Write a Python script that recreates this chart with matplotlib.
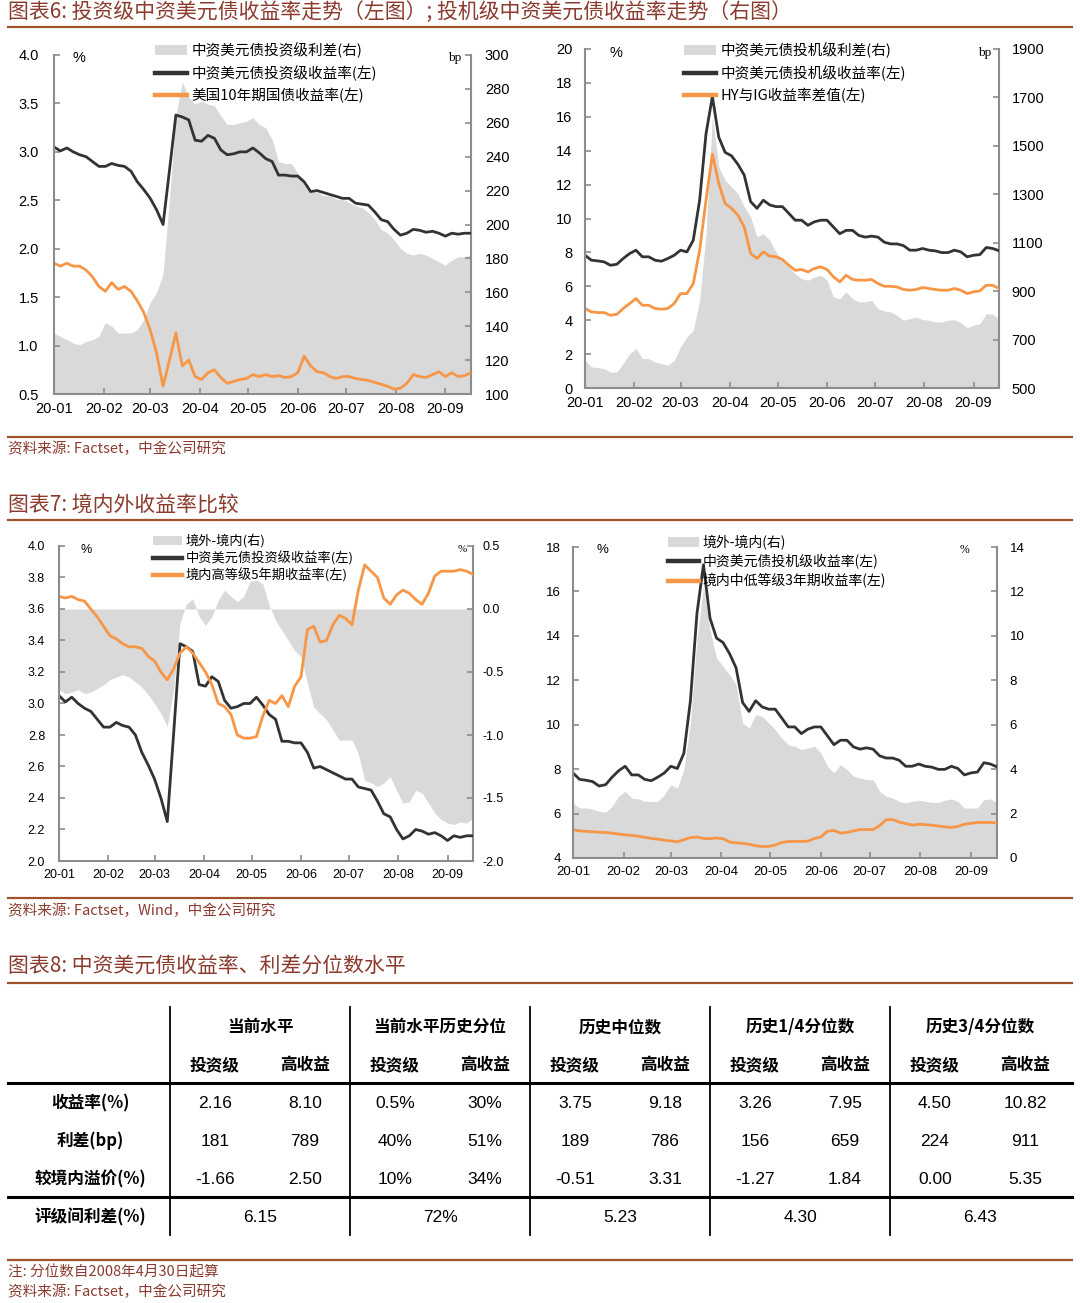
import pandas as pd
import matplotlib
matplotlib.use('Agg')
import matplotlib.pyplot as plt
from matplotlib.patches import Patch
from matplotlib.lines import Line2D

plt.rcParams['font.family'] = ['Liberation Sans', 'Noto Sans CJK SC']

# 4-day grid, 2020-01-01 .. 2020-09-17
dates = pd.date_range('2020-01-01', periods=66, freq='4D')

ig_spread = [136, 134, 132, 130, 129, 131, 132, 134, 142, 140,
             136, 136, 136, 138, 144, 154, 160, 171, 215, 264,
             284, 275, 271, 273, 271, 270, 264, 259, 259, 260,
             261, 263, 259, 257, 250, 237, 236, 236, 230, 223,
             219, 219, 217, 217, 215, 215, 213, 211, 210, 207,
             203, 197, 195, 191, 186, 183, 182, 183, 182, 180,
             178, 176, 179, 181, 181, 182]
ig_yield = [3.05, 3.01, 3.04, 3.00, 2.97, 2.95, 2.90, 2.85, 2.85, 2.88,
            2.86, 2.85, 2.80, 2.69, 2.61, 2.52, 2.40, 2.25, 2.81, 3.38,
            3.36, 3.33, 3.12, 3.11, 3.17, 3.14, 3.02, 2.97, 2.98, 3.00,
            3.00, 3.04, 2.99, 2.93, 2.90, 2.76, 2.76, 2.75, 2.75, 2.69,
            2.59, 2.60, 2.58, 2.56, 2.54, 2.52, 2.52, 2.47, 2.46, 2.45,
            2.38, 2.30, 2.28, 2.20, 2.14, 2.16, 2.20, 2.19, 2.17, 2.18,
            2.16, 2.13, 2.16, 2.15, 2.16, 2.16]
ust10 = [1.85, 1.82, 1.85, 1.82, 1.82, 1.78, 1.71, 1.61, 1.56, 1.65,
         1.58, 1.61, 1.56, 1.46, 1.34, 1.16, 0.92, 0.58, 0.85, 1.13,
         0.79, 0.85, 0.68, 0.65, 0.72, 0.75, 0.67, 0.61, 0.63, 0.65,
         0.66, 0.70, 0.68, 0.70, 0.68, 0.69, 0.67, 0.68, 0.72, 0.89,
         0.79, 0.73, 0.72, 0.68, 0.66, 0.68, 0.68, 0.66, 0.65, 0.64,
         0.62, 0.60, 0.58, 0.55, 0.56, 0.61, 0.70, 0.68, 0.67, 0.70,
         0.73, 0.68, 0.72, 0.68, 0.69, 0.72]

hy_spread = [614, 587, 584, 580, 566, 566, 601, 642, 663, 621,
             621, 607, 601, 594, 614, 669, 711, 738, 862, 1138,
             1620, 1414, 1358, 1331, 1303, 1248, 1207, 1124, 1138, 1110,
             1062, 1028, 1000, 972, 952, 945, 959, 966, 945, 876,
             869, 897, 869, 856, 856, 862, 828, 818, 814, 800,
             780, 786, 793, 782, 780, 773, 773, 780, 782, 769,
             749, 759, 766, 807, 805, 786]
hy_yield = [7.83, 7.54, 7.50, 7.44, 7.24, 7.30, 7.64, 7.93, 8.13, 7.74,
            7.74, 7.54, 7.48, 7.64, 7.83, 8.13, 8.03, 8.72, 11.08, 15.0,
            17.2, 14.8, 13.9, 13.7, 13.2, 12.56, 11.0, 10.6, 11.08, 10.8,
            10.7, 10.7, 10.3, 9.9, 9.9, 9.6, 9.8, 9.9, 9.9, 9.5,
            9.1, 9.3, 9.3, 9.0, 8.9, 8.96, 8.9, 8.6, 8.5, 8.5,
            8.4, 8.13, 8.13, 8.23, 8.13, 8.09, 7.99, 7.99, 8.13, 8.03,
            7.74, 7.83, 7.87, 8.29, 8.23, 8.10]
hy_ig_diff = [4.69, 4.49, 4.45, 4.45, 4.29, 4.35, 4.69, 4.98, 5.28, 4.88,
              4.88, 4.69, 4.65, 4.69, 4.98, 5.57, 5.57, 6.16, 8.13, 11.08,
              13.8, 12.07, 10.89, 10.6, 10.2, 9.5, 7.93, 7.64, 8.03, 7.78,
              7.74, 7.58, 7.24, 6.95, 6.99, 6.85, 7.05, 7.15, 6.99, 6.56,
              6.26, 6.65, 6.40, 6.36, 6.36, 6.40, 6.16, 6.00, 6.00, 5.96,
              5.81, 5.77, 5.81, 5.93, 5.87, 5.81, 5.77, 5.77, 5.87, 5.77,
              5.57, 5.67, 5.73, 6.06, 6.06, 5.87]

ig_premium = [-0.64, -0.67, -0.66, -0.64, -0.67, -0.66, -0.63, -0.60, -0.56, -0.54,
              -0.52, -0.54, -0.58, -0.62, -0.68, -0.75, -0.83, -0.93, -0.64, -0.11,
              0.04, 0.08, -0.06, -0.13, -0.06, 0.07, 0.15, 0.10, 0.06, 0.10,
              0.22, 0.23, 0.20, 0.03, -0.09, -0.17, -0.25, -0.33, -0.38, -0.59,
              -0.78, -0.83, -0.88, -0.96, -1.04, -1.04, -1.04, -1.15, -1.36, -1.38,
              -1.41, -1.38, -1.33, -1.44, -1.54, -1.53, -1.44, -1.46, -1.54, -1.62,
              -1.67, -1.70, -1.71, -1.69, -1.70, -1.66]
cn_hg5y = [3.68, 3.67, 3.68, 3.66, 3.65, 3.60, 3.55, 3.49, 3.43, 3.41,
           3.38, 3.36, 3.36, 3.35, 3.30, 3.27, 3.20, 3.15, 3.22, 3.32,
           3.36, 3.32, 3.26, 3.20, 3.12, 3.00, 2.98, 2.93, 2.80, 2.78,
           2.78, 2.79, 2.92, 3.02, 3.00, 3.05, 2.98, 3.11, 3.17, 3.47,
           3.49, 3.39, 3.40, 3.50, 3.56, 3.54, 3.50, 3.72, 3.88, 3.84,
           3.80, 3.67, 3.63, 3.69, 3.72, 3.70, 3.66, 3.63, 3.70, 3.81,
           3.84, 3.84, 3.84, 3.85, 3.84, 3.82]

hy_premium = [2.48, 2.25, 2.25, 2.2, 2.1, 2.06, 2.33, 2.78, 3.0, 2.7,
              2.66, 2.55, 2.55, 2.55, 2.85, 3.3, 3.15, 3.98, 6.08, 9.83,
              12.23, 10.28, 9.0, 8.63, 8.25, 7.8, 6.08, 5.85, 6.45, 6.38,
              6.08, 5.78, 5.4, 5.1, 5.03, 4.88, 4.95, 5.03, 4.73, 4.13,
              3.83, 4.2, 3.98, 3.68, 3.6, 3.53, 3.53, 3.0, 2.78, 2.7,
              2.55, 2.48, 2.55, 2.6, 2.55, 2.5, 2.5, 2.6, 2.66, 2.55,
              2.25, 2.25, 2.25, 2.63, 2.66, 2.48]
cn_ml3y = [5.27, 5.22, 5.20, 5.18, 5.16, 5.15, 5.12, 5.08, 5.04, 5.02,
           4.98, 4.93, 4.88, 4.85, 4.80, 4.77, 4.73, 4.82, 4.92, 4.94,
           4.88, 4.87, 4.90, 4.87, 4.72, 4.68, 4.66, 4.62, 4.55, 4.52,
           4.52, 4.58, 4.70, 4.74, 4.75, 4.74, 4.76, 4.88, 4.95, 5.20,
           5.24, 5.12, 5.15, 5.22, 5.28, 5.28, 5.28, 5.45, 5.72, 5.73,
           5.62, 5.55, 5.48, 5.52, 5.50, 5.48, 5.44, 5.40, 5.38, 5.42,
           5.52, 5.56, 5.60, 5.60, 5.60, 5.58]

month_ticks = pd.date_range('2020-01-01', '2020-09-01', freq='MS')
month_labels = [d.strftime('%y-%m') for d in month_ticks]

# table
groups = ['当前水平', '当前水平历史分位', '历史中位数', '历史1/4分位数', '历史3/4分位数']
subcols = ['投资级', '高收益']
row_labels = ['收益率(%)', '利差(bp)', '较境内溢价(%)']
row_values = [['2.16', '8.10', '0.5%', '30%', '3.75', '9.18', '3.26', '7.95', '4.50', '10.82'],
              ['181', '789', '40%', '51%', '189', '786', '156', '659', '224', '911'],
              ['-1.66', '2.50', '10%', '34%', '-0.51', '3.31', '-1.27', '1.84', '0.00', '5.35']]
last_label = '评级间利差(%)'
last_values = ['6.15', '72%', '5.23', '4.30', '6.43']

W, H = 1080, 1303
fig = plt.figure(figsize=(W / 100, H / 100), dpi=100)

GREY = '#D9D9D9'
BLACK = '#333333'
ORANGE = '#F79646'
AXC = '#8C8C8C'
TITLEC = '#8B3A2E'
RULEC = '#A0522D'
CJK = ['Noto Sans CJK SC', 'DejaVu Sans']


def px_rect(x0, y0, x1, y1):
    return [x0 / W, 1 - y1 / H, (x1 - x0) / W, (y1 - y0) / H]


def hline(y, x0=8, x1=1072, color=RULEC, lw=1.6):
    fig.add_artist(Line2D([x0 / W, x1 / W], [1 - y / H, 1 - y / H],
                          transform=fig.transFigure, color=color, lw=lw))


def vline(x, y0, y1, color='black', lw=1.3):
    fig.add_artist(Line2D([x / W, x / W], [1 - y0 / H, 1 - y1 / H],
                          transform=fig.transFigure, color=color, lw=lw))


def ftext(x, y, s, **kw):
    fig.text(x / W, 1 - y / H, s, **kw)


def chart(rect, fill, base, black, orange, llim, lticks, lfmt, rlim, rticks, rfmt,
          labels, lunit, runit, fs, pads, leg_xy, leg_fs, leg_sp, unit_pos):
    ax = fig.add_axes(px_rect(*rect))
    ax2 = ax.twinx()
    ax2.fill_between(dates, base, fill, color=GREY, lw=0)
    ax.plot(dates, black, color=BLACK, lw=2.0)
    ax.plot(dates, orange, color=ORANGE, lw=2.0)
    ax.set_zorder(ax2.get_zorder() + 1)
    ax.patch.set_visible(False)
    ax.set_xlim(pd.Timestamp('2020-01-01'), dates[-1])
    ax.set_ylim(*llim)
    ax2.set_ylim(*rlim)
    ax.set_yticks(lticks)
    ax.set_yticklabels([lfmt.format(v) for v in lticks])
    ax2.set_yticks(rticks)
    ax2.set_yticklabels([rfmt.format(v) for v in rticks])
    ax.set_xticks(month_ticks)
    ax.set_xticklabels(month_labels)
    for a in (ax, ax2):
        for s in a.spines.values():
            s.set_color(AXC)
            s.set_linewidth(1.5)
        a.spines['top'].set_visible(False)
    ax.spines['right'].set_visible(False)
    ax2.spines['left'].set_visible(False)
    ax2.spines['bottom'].set_visible(False)
    ax.tick_params(axis='y', direction='in', length=4, color=AXC, width=1.2,
                   labelsize=fs, pad=pads[0])
    ax2.tick_params(axis='y', direction='in', length=4, color=AXC, width=1.2,
                    labelsize=fs, pad=pads[1])
    ax.tick_params(axis='x', direction='in', length=4, color=AXC, width=1.2,
                   labelsize=fs, pad=pads[2])
    handles = [Patch(facecolor=GREY, edgecolor='none'),
               Line2D([], [], color=BLACK, lw=3.2),
               Line2D([], [], color=ORANGE, lw=3.2)]
    ax.legend(handles, labels, loc='upper left',
              bbox_to_anchor=(leg_xy[0] / W, 1 - leg_xy[1] / H),
              bbox_transform=fig.transFigure, frameon=False,
              prop={'family': CJK, 'size': leg_fs}, handlelength=2.2,
              handletextpad=0.3, labelspacing=leg_sp, borderpad=0,
              borderaxespad=0)
    ftext(unit_pos[0], unit_pos[1], lunit, fontsize=fs, va='center', ha='center')
    ftext(unit_pos[2], unit_pos[1], runit, fontsize=fs - 1, va='center',
          ha='center', family=['Liberation Serif'])
    return ax


# ---- titles / rules
title_kw = dict(fontsize=15, color=TITLEC, va='center', ha='left', family=CJK)
src_kw = dict(fontsize=10.5, color=TITLEC, va='center', ha='left', family=CJK)

ftext(8, 12, '图表6: 投资级中资美元债收益率走势（左图）; 投机级中资美元债收益率走势（右图）', **title_kw)
hline(27)
ftext(8, 449, '资料来源: Factset，中金公司研究', **src_kw)
hline(437)

ftext(8, 506, '图表7: 境内外收益率比较', **title_kw)
hline(520)
hline(898)
ftext(8, 911, '资料来源: Factset，Wind，中金公司研究', **src_kw)

ftext(8, 967, '图表8: 中资美元债收益率、利差分位数水平', **title_kw)
hline(983)
hline(1260)
ftext(8, 1272, '注: 分位数自2008年4月30日起算', **src_kw)
ftext(8, 1292, '资料来源: Factset，中金公司研究', **src_kw)

# ---- charts
chart((54, 55, 471, 394), ig_spread, 100, ig_yield, ust10,
      (0.5, 4.0), [0.5, 1.0, 1.5, 2.0, 2.5, 3.0, 3.5, 4.0], '{:.1f}',
      (100, 300), list(range(100, 301, 20)), '{:d}',
      ['中资美元债投资级利差(右)', '中资美元债投资级收益率(左)', '美国10年期国债收益率(左)'],
      '%', 'bp', 10.5, (11, 10, 6), (155, 42), 10.5, 0.5, (79, 58, 455))

chart((585, 49, 999, 388), hy_spread, 500, hy_yield, hy_ig_diff,
      (0, 20), list(range(0, 21, 2)), '{:d}',
      (500, 1900), list(range(500, 1901, 200)), '{:d}',
      ['中资美元债投机级利差(右)', '中资美元债投机级收益率(左)', 'HY与IG收益率差值(左)'],
      '%', 'bp', 10.5, (9, 9, 6), (684, 42), 10.5, 0.5, (616, 53, 985))

chart((59, 546, 473, 861), ig_premium, 0, ig_yield, cn_hg5y,
      (2.0, 4.0), [2.0, 2.2, 2.4, 2.6, 2.8, 3.0, 3.2, 3.4, 3.6, 3.8, 4.0], '{:.1f}',
      (-2.0, 0.5), [-2.0, -1.5, -1.0, -0.5, 0.0, 0.5], '{:.1f}',
      ['境外-境内(右)', '中资美元债投资级收益率(左)', '境内高等级5年期收益率(左)'],
      '%', '%', 9, (10, 7, 6), (153, 534), 9.5, 0.22, (86, 550, 462))

chart((573, 547, 997, 858), hy_premium, 0, hy_yield, cn_ml3y,
      (4, 18), list(range(4, 19, 2)), '{:d}',
      (0, 14), list(range(0, 15, 2)), '{:d}',
      ['境外-境内(右)', '中资美元债投机级收益率(左)', '境内中低等级3年期收益率(左)'],
      '%', '%', 9.5, (8.5, 9, 6), (668, 535), 10, 0.3, (602, 550, 965))

# ---- table
vcols = [170, 350, 530, 710, 890]
for x in vcols:
    vline(x, 1007, 1235)
hline(1083, color='black', lw=2.2)
hline(1197, color='black', lw=2.2)

tab_kw = dict(fontsize=12, va='center', ha='center', family=CJK)
num_kw = dict(fontsize=12.5, va='center', ha='center')
for i, g in enumerate(groups):
    cx = vcols[i] + 90
    ftext(cx, 1027, g, weight='bold', **tab_kw)
    ftext(cx, 1217, last_values[i], **num_kw)
    for j, s in enumerate(subcols):
        sx = vcols[i] + 45 + 90 * j
        ftext(sx, 1065, s, weight='bold', **tab_kw)
        for r in range(3):
            ftext(sx, 1103 + 38 * r, row_values[r][2 * i + j], **num_kw)
for r, lab in enumerate(row_labels):
    ftext(90, 1103 + 38 * r, lab, weight='bold', **tab_kw)
ftext(90, 1217, last_label, weight='bold', **tab_kw)

fig.savefig('out.png', dpi=100)
